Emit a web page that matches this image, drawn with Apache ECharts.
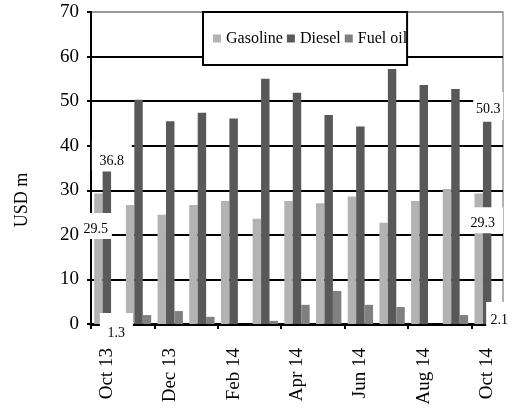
<!DOCTYPE html>
<html><head><meta charset="utf-8">
<script src="https://cdn.jsdelivr.net/npm/echarts@6/dist/echarts.min.js"></script>
<style>html,body{margin:0;padding:0;background:#fff}#c{width:515px;height:416px}</style>
</head><body><div id="c"></div>
<script>
const categories = ['Oct 13','Nov 13','Dec 13','Jan 14','Feb 14','Mar 14','Apr 14','May 14','Jun 14','Jul 14','Aug 14','Sep 14','Oct 14'];
const gasoline = [29.3,26.7,24.5,26.7,27.6,23.6,27.6,27.1,28.6,22.7,27.6,30.3,29.3];
const diesel   = [34.2,50.3,45.5,47.4,46.1,55.0,51.9,46.9,44.3,57.2,53.6,52.7,45.4];
const fuelOil  = [1.3,2.0,2.9,1.6,0,0.7,4.3,7.4,4.3,3.8,0,2.0,2.1];
const seriesNames = ['Gasoline','Diesel','Fuel oil'];
const yMin = 0, yMax = 70, yStep = 10;
const labelTexts = ['36.8','29.5','1.3','50.3','29.3','2.1'];
const labelCats  = [0,0,0,12,12,12];
const labelVals  = [37.9,22,-0.2,48.9,23.3,1.8];

const FONT = 'Liberation Serif';
const chart = echarts.init(document.getElementById('c'), null, {renderer:'canvas'});
const colors = ['#b3b3b3','#595959','#808080'];
const splitColors = ['#000','#000','#000','#000','#000','#000','#000','#999'];

chart.setOption({
  animation:false,
  backgroundColor:'#fff',
  grid:{left:91,right:12,top:12,bottom:92,show:true,borderColor:'#999',borderWidth:1.5,backgroundColor:'transparent'},
  legend:{
    data:seriesNames, left:203, top:12,
    backgroundColor:'#fff', borderColor:'#000', borderWidth:2,
    padding:[18,0,18,10], itemWidth:8, itemHeight:8, itemGap:4,
    icon:'rect',
    textStyle:{fontFamily:FONT,fontSize:16,color:'#000',lineHeight:17}
  },
  xAxis:{
    type:'category', data:categories, boundaryGap:true,
    axisLine:{lineStyle:{color:'#000',width:3}},
    axisTick:{show:true,interval:1,length:5,lineStyle:{color:'#000',width:2}},
    axisLabel:{interval:1,rotate:90,margin:24,fontFamily:FONT,fontSize:19,color:'#000'}
  },
  yAxis:{
    type:'value', min:yMin, max:yMax, interval:yStep,
    axisLine:{show:true,lineStyle:{color:'#000',width:2}},
    axisTick:{show:true,length:4,lineStyle:{color:'#000',width:2}},
    axisLabel:{margin:12,fontFamily:FONT,fontSize:19,color:'#000'},
    splitLine:{show:true,lineStyle:{color:splitColors,width:2}}
  },
  series:[
    {name:seriesNames[0],type:'bar',data:gasoline,itemStyle:{color:colors[0]},barGap:'0%',barCategoryGap:'20%'},
    {name:seriesNames[1],type:'bar',data:diesel,itemStyle:{color:colors[1]},barGap:'0%',barCategoryGap:'20%'},
    {name:seriesNames[2],type:'bar',data:fuelOil,itemStyle:{color:colors[2]},barGap:'0%',barCategoryGap:'20%'}
  ]
});

const boxSizes = [[40,30,5],[32,26,-11],[33,24,9.5],[30,28,1],[41,26,-4.5],[26,28,12]];
const textDy = [6,3,8,3,3,4];
const graphics = [];
labelTexts.forEach((t,i)=>{
  const p = chart.convertToPixel({gridIndex:0},[labelCats[i],labelVals[i]]);
  const [w,h,dx] = boxSizes[i];
  const cx = p[0]+dx, cy = p[1];
  graphics.push({type:'rect',z:1000,zlevel:0,shape:{x:cx-w/2,y:cy-h/2,width:w,height:h},style:{fill:'#fff'}});
  graphics.push({type:'text',z:1001,zlevel:0,x:cx,y:cy+textDy[i],style:{text:t,fontFamily:FONT,fontSize:14,fill:'#000',align:'center',verticalAlign:'middle'}});
});
graphics.push({type:'text',x:22,y:200,rotation:Math.PI/2,z:1001,style:{text:'USD m',fontFamily:FONT,fontSize:18,fill:'#000',align:'center',verticalAlign:'middle'}});
chart.setOption({graphic:graphics});
</script></body></html>
